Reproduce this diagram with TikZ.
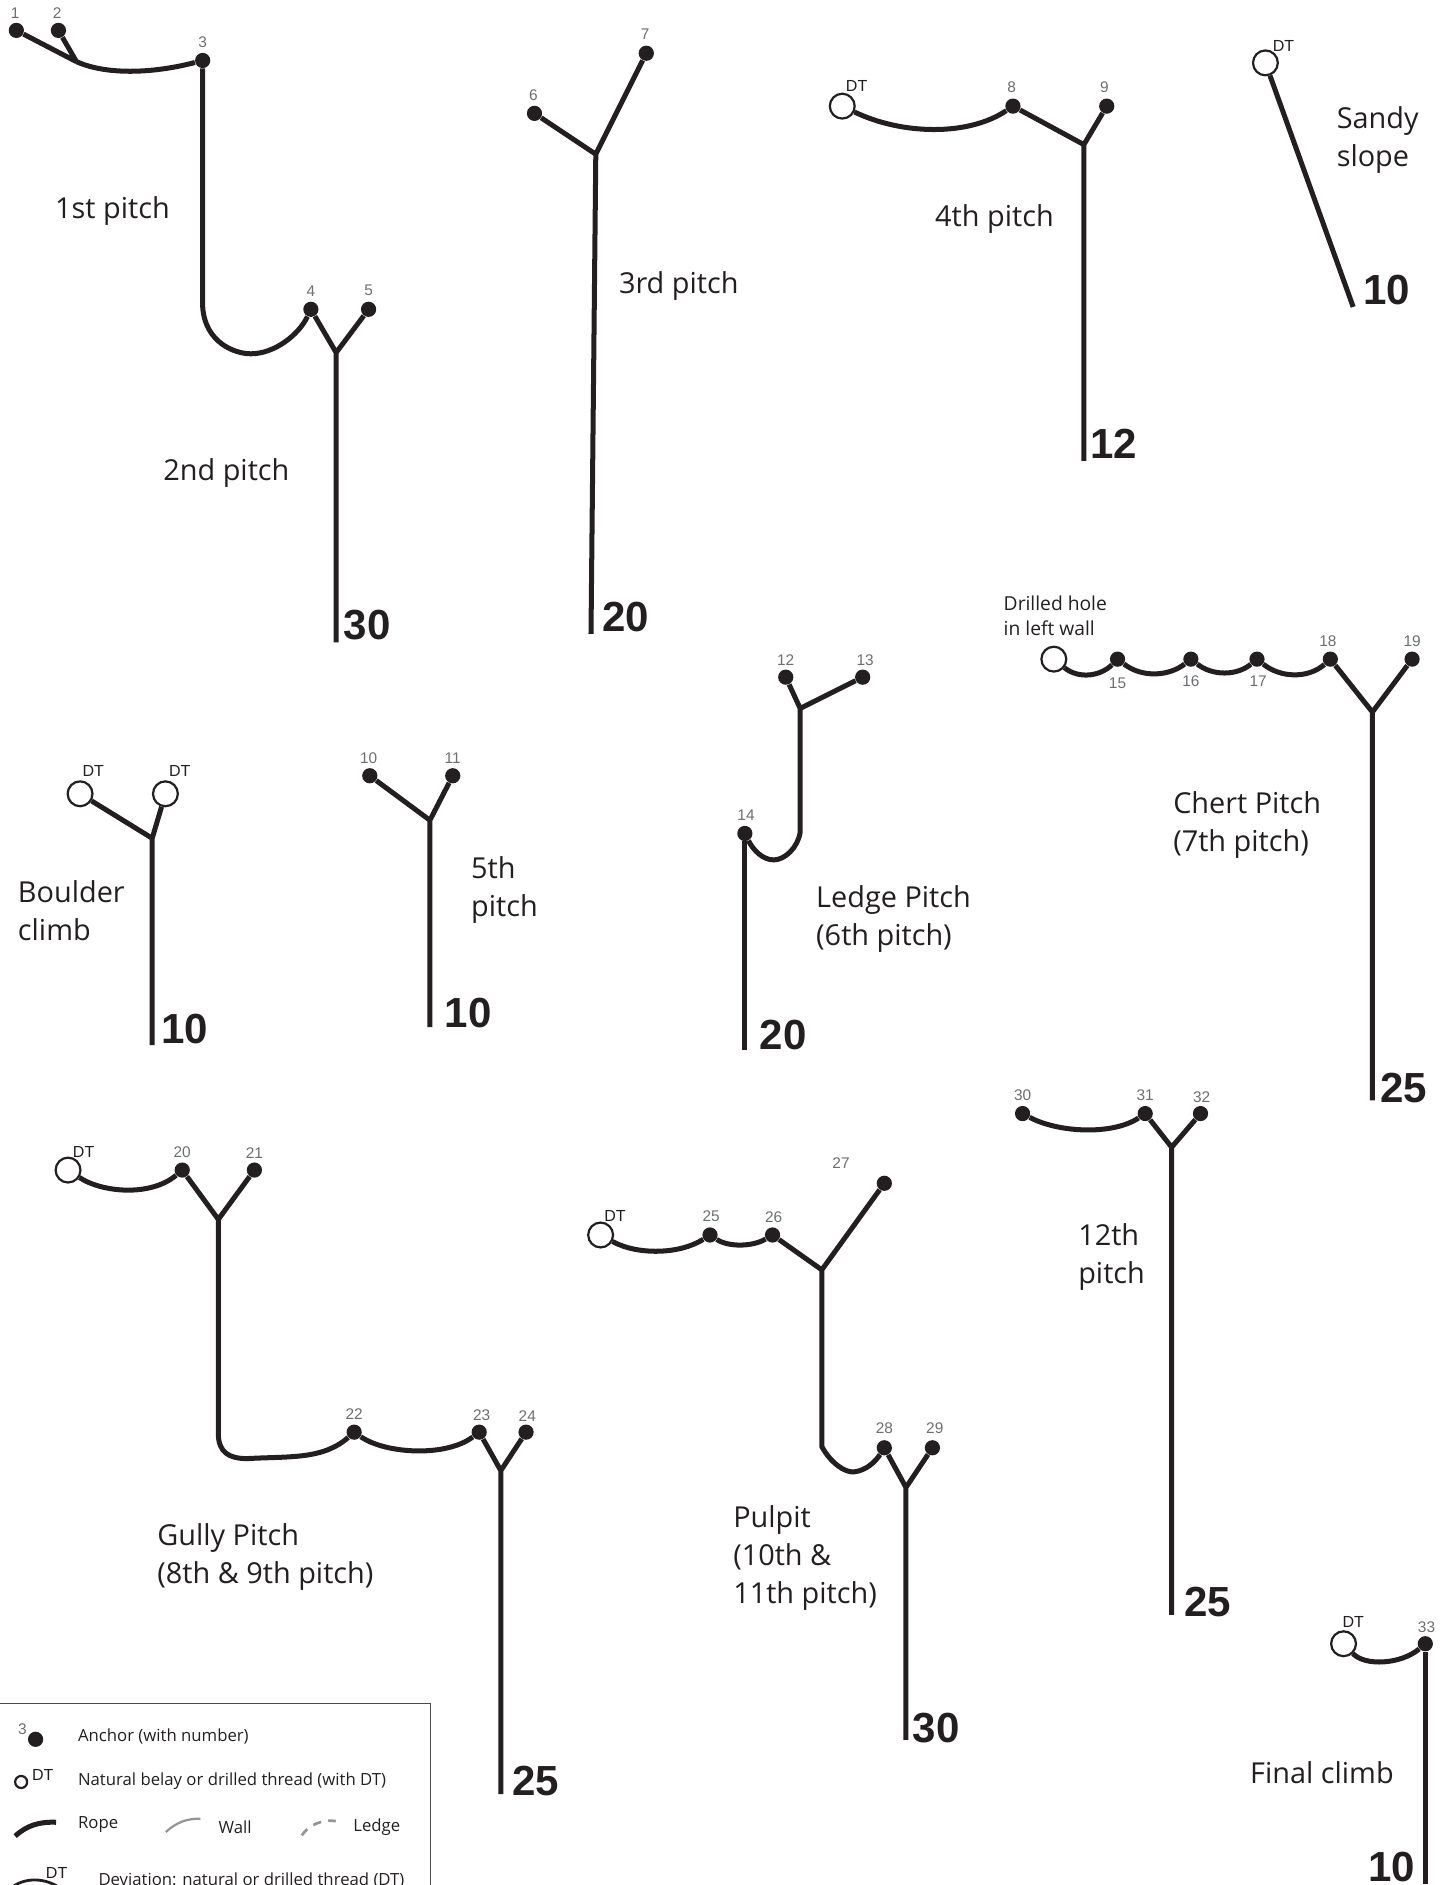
\documentclass[tikz,border=0pt]{standalone}
\usepackage{fontspec}
\setmainfont{Open Sans}
\newfontfamily\arialf{Liberation Sans}
\definecolor{ink}{HTML}{231F20}
\definecolor{numgray}{HTML}{6D6E71}
\definecolor{wallgray}{HTML}{939598}
\tikzset{
  rope/.style={draw=ink,line width=2.5pt,line join=round},
  anch/.style={circle,fill=ink,inner sep=0pt,minimum size=7.6pt},
  dtc/.style={circle,draw=ink,fill=white,line width=1.1pt,inner sep=0pt,minimum size=12.4pt},
  num/.style={font=\arialf\fontsize{7.7}{8}\selectfont,text=numgray,inner sep=0pt},
  dtl/.style={font=\arialf\fontsize{8}{9}\selectfont,text=ink,inner sep=0pt},
  len/.style={font=\arialf\bfseries\fontsize{21}{22}\selectfont,text=ink,inner sep=0pt},
  pitch/.style={font=\fontsize{14.4}{19}\selectfont,text=ink,inner sep=0pt,anchor=west,align=left,yshift=-1.2pt},
  legt/.style={font=\fontsize{8.35}{10}\selectfont,text=ink,inner sep=0pt,anchor=west,yshift=-0.9pt},
}
\begin{document}
\begin{tikzpicture}[x=0.6pt,y=-0.6pt]
\useasboundingbox (-0.6,-0.3) rectangle (1201.4,1567.7);
\clip (-0.6,-0.3) rectangle (1201.4,1567.7);
% --- 1st & 2nd pitch
\node[anch] (a1) at (13,25) {}; \node[anch] (a2) at (48,25) {}; \node[anch] (a3) at (168,50) {};
\node[anch] (a4) at (258,257) {}; \node[anch] (a5) at (306,257) {};
\coordinate (j1) at (63,51); \coordinate (y1) at (279,293); \coordinate (e1) at (279,534); \coordinate (b1) at (168,255);
\draw[rope] (a1) -- (j1) (a2) -- (j1);
\draw[rope] (j1) .. controls (90,63) and (130,60) .. (a3);
\draw[rope] (a3) -- (b1) .. controls (170,285) and (195,294) .. (208,294) .. controls (228,294) and (248,278) .. (a4);
\draw[rope] (a4) -- (y1) (a5) -- (y1) (y1) -- (e1);
\node[num] (n1) at (12,11) {1}; \node[num] (n2) at (47,11) {2}; \node[num] (n3) at (168,35) {3};
\node[num] (n4) at (258,242) {4}; \node[num] (n5) at (306,241) {5};
\node[pitch] (t1) at (45,173) {1st pitch}; \node[pitch] (t2) at (135,391) {2nd pitch};
\node[len] (l1) at (305,520) {30};
% --- 3rd pitch
\node[anch] (a6) at (444,94) {}; \node[anch] (a7) at (537,44) {};
\coordinate (y3) at (495,128); \coordinate (e3) at (491,527);
\draw[rope] (a6) -- (y3) (a7) -- (y3) (y3) -- (e3);
\node[num] (n6) at (443,79) {6}; \node[num] (n7) at (536,28) {7};
\node[pitch] (t3) at (514,236) {3rd pitch}; \node[len] (l3) at (520,513) {20};
% --- 4th pitch
\node[dtc] (d4) at (700,88) {}; \node[anch] (a8) at (842,88) {}; \node[anch] (a9) at (920,88) {};
\coordinate (y4) at (901,120); \coordinate (e4) at (901,383);
\draw[rope] (d4) .. controls (750,112) and (805,113) .. (a8);
\draw[rope] (a8) -- (y4) (a9) -- (y4) (y4) -- (e4);
\node[dtl] (n4d) at (712,71) {DT}; \node[num] (n8) at (841,72) {8}; \node[num] (n9) at (918,72) {9};
\node[pitch] (t4) at (777,180) {4th pitch}; \node[len] (l4) at (926,369) {12};
% --- Sandy slope
\node[dtc] (ds) at (1052,52) {}; \coordinate (es) at (1125,255);
\draw[rope] (ds) -- (es);
\node[dtl] (nsd) at (1067,38) {DT};
\node[pitch] (ts) at (1111,114) {Sandy\\slope}; \node[len] (ls) at (1153,241) {10};
% --- Boulder climb
\node[dtc] (db1) at (66,660) {}; \node[dtc] (db2) at (137,660) {};
\coordinate (yb) at (126,697); \coordinate (eb) at (126,869);
\draw[rope] (db1) -- (yb) (db2) -- (yb) (yb) -- (eb);
\node[dtl] (nb1) at (77,641) {DT}; \node[dtl] (nb2) at (149,641) {DT};
\node[pitch] (tb) at (14,755) {Boulder\\climb}; \node[len] (lb) at (153,856) {10};
% --- 5th pitch
\node[anch] (a10) at (307,645) {}; \node[anch] (a11) at (376,645) {};
\coordinate (y5) at (357,682); \coordinate (e5) at (357,854);
\draw[rope] (a10) -- (y5) (a11) -- (y5) (y5) -- (e5);
\node[num] (n10) at (306,630) {10}; \node[num] (n11) at (376,630) {11};
\node[pitch] (t5) at (391,738) {5th\\pitch}; \node[len] (l5) at (389,842) {10};
% --- Ledge pitch
\node[anch] (a12) at (653,563) {}; \node[anch] (a13) at (717,563) {}; \node[anch] (a14) at (619,693) {};
\coordinate (y6) at (665,589); \coordinate (b6) at (665,692); \coordinate (e6) at (619,873);
\draw[rope] (a12) -- (y6) (a13) -- (y6) (y6) -- (b6) .. controls (663,705) and (652,715) .. (643,715) .. controls (634,715) and (626,707) .. (a14);
\draw[rope] (a14) -- (e6);
\node[num] (n12) at (653,549) {12}; \node[num] (n13) at (719,549) {13}; \node[num] (n14) at (620,678) {14};
\node[pitch] (t6) at (678,762) {Ledge Pitch\\(6th pitch)}; \node[len] (l6) at (651,861) {20};
% --- Chert pitch
\node[dtc] (d7) at (876,548) {}; \node[anch] (a15) at (929,548) {}; \node[anch] (a16) at (990,548) {};
\node[anch] (a17) at (1045,548) {}; \node[anch] (a18) at (1106,548) {}; \node[anch] (a19) at (1174,548) {};
\coordinate (y7) at (1141,592); \coordinate (e7) at (1141,915);
\draw[rope] (d7) .. controls (897,565) and (915,562) .. (a15);
\draw[rope] (a15) .. controls (950,564) and (972,562) .. (a16);
\draw[rope] (a16) .. controls (1008,562) and (1028,562) .. (a17);
\draw[rope] (a17) .. controls (1065,564) and (1088,564) .. (a18);
\draw[rope] (a18) -- (y7) (a19) -- (y7) (y7) -- (e7);
\node[num] (n15) at (929,568) {15}; \node[num] (n16) at (990,566) {16}; \node[num] (n17) at (1046,566) {17};
\node[num] (n18) at (1104,533) {18}; \node[num] (n19) at (1174,533) {19};
\node[font=\fontsize{9.6}{12.4}\selectfont,text=ink,inner sep=0pt,anchor=west,align=left] (t7b) at (834,512) {Drilled hole\\in left wall};
\node[pitch] (t7) at (975,684) {Chert Pitch\\(7th pitch)}; \node[len] (l7) at (1167,905) {25};
% --- Gully pitch
\node[dtc] (d8) at (56,973) {}; \node[anch] (a20) at (151,973) {}; \node[anch] (a21) at (211,973) {};
\node[anch] (a22) at (294,1191) {}; \node[anch] (a23) at (398,1191) {}; \node[anch] (a24) at (437,1191) {};
\coordinate (y8) at (181,1014); \coordinate (b8) at (181,1192); \coordinate (y9) at (416,1223); \coordinate (e9) at (416,1492);
\draw[rope] (d8) .. controls (85,992) and (125,995) .. (a20);
\draw[rope] (a20) -- (y8) (a21) -- (y8) (y8) -- (b8) .. controls (181,1208) and (190,1213) .. (205,1213) .. controls (240,1211) and (268,1214) .. (a22);
\draw[rope] (a22) .. controls (320,1209) and (370,1212) .. (a23);
\draw[rope] (a23) -- (y9) (a24) -- (y9) (y9) -- (e9);
\node[dtl] (n8d) at (69,958) {DT}; \node[num] (n20) at (151,958) {20}; \node[num] (n21) at (211,959) {21};
\node[num] (n22) at (294,1176) {22}; \node[num] (n23) at (400,1177) {23}; \node[num] (n24) at (438,1178) {24};
\node[pitch] (t8) at (130,1293) {Gully Pitch\\(8th \& 9th pitch)}; \node[len] (l8) at (445,1481) {25};
% --- Pulpit
\node[dtc] (d10) at (499,1027) {}; \node[anch] (a25) at (590,1027) {}; \node[anch] (a26) at (642,1027) {};
\node[anch] (a27) at (735,984) {}; \node[anch] (a28) at (735,1204) {}; \node[anch] (a29) at (775,1204) {};
\coordinate (y10) at (683,1056); \coordinate (b10) at (683,1203); \coordinate (y11) at (753,1237); \coordinate (e11) at (753,1447);
\draw[rope] (d10) .. controls (530,1044) and (565,1043) .. (a25);
\draw[rope] (a25) .. controls (605,1037) and (625,1037) .. (a26);
\draw[rope] (a26) -- (y10) (a27) -- (y10) (y10) -- (b10) .. controls (690,1216) and (702,1225) .. (710,1224) .. controls (720,1223) and (728,1215) .. (a28);
\draw[rope] (a28) -- (y11) (a29) -- (y11) (y11) -- (e11);
\node[dtl] (n10d) at (511,1011) {DT}; \node[num] (n25) at (591,1011) {25}; \node[num] (n26) at (643,1012) {26};
\node[num] (n27) at (699,967) {27}; \node[num] (n28) at (735,1188) {28}; \node[num] (n29) at (777,1188) {29};
\node[pitch] (t10) at (609,1294) {Pulpit\\(10th \&\\11th pitch)}; \node[len] (l10) at (778,1437) {30};
% --- 12th pitch
\node[anch] (a30) at (850,926) {}; \node[anch] (a31) at (952,926) {}; \node[anch] (a32) at (998,926) {};
\coordinate (y12) at (974,954); \coordinate (e12) at (974,1343);
\draw[rope] (a30) .. controls (880,942) and (925,944) .. (a31);
\draw[rope] (a31) -- (y12) (a32) -- (y12) (y12) -- (e12);
\node[num] (n30) at (850,911) {30}; \node[num] (n31) at (952,911) {31}; \node[num] (n32) at (999,912) {32};
\node[pitch] (t12) at (896,1043) {12th\\pitch}; \node[len] (l12) at (1004,1332) {25};
% --- Final climb
\node[dtc] (df) at (1117,1367) {}; \node[anch] (a33) at (1185,1367) {}; \coordinate (ef) at (1185,1566.5);
\draw[rope] (df) .. controls (1135,1386) and (1165,1384) .. (a33);
\draw[rope] (a33) -- (ef);
\node[dtl] (nfd) at (1125,1349) {DT}; \node[num] (n33) at (1186,1353) {33};
\node[pitch] (tf) at (1039,1472) {Final climb}; \node[len] (lf) at (1157,1552.5) {10};
% --- Legend
\draw[draw=ink!80,line width=0.6pt] (-5,1416.5) -- (357.5,1416.5) -- (357.5,1580);
\node[anch] (la) at (29,1446.5) {}; \node[num] (lan) at (18,1438) {3};
\node[legt] (lat) at (64,1443) {Anchor (with number)};
\node[circle,draw=ink,fill=white,line width=1.1pt,inner sep=0pt,minimum size=6pt] (ld) at (17,1482) {};
\node[dtl] (ldn) at (35,1476) {DT};
\node[legt] (ldt) at (64,1480) {Natural belay or drilled thread (with DT)};
\coordinate (lr1) at (12,1527); \coordinate (lr2) at (46,1515.5);
\draw[rope] (lr1) .. controls (22,1518) and (32,1515) .. (lr2);
\node[legt] (lrt) at (64,1516) {Rope};
\coordinate (lw1) at (137.3,1523.6); \coordinate (lw2) at (166,1512.5);
\draw[draw=wallgray,line width=1.1pt] (lw1) .. controls (147,1515) and (155,1512.5) .. (lw2);
\node[legt] (lwt) at (181,1518) {Wall};
\coordinate (lg1) at (250.4,1526.4); \coordinate (lg2) at (278.7,1514.5);
\draw[draw=wallgray,line width=1.35pt,dash pattern=on 4.2pt off 3.6pt] (lg1) .. controls (257,1517) and (268,1513) .. (lg2);
\node[legt] (lgt) at (293,1518) {Ledge};
\coordinate (ldv1) at (8,1571); \coordinate (ldv2) at (50,1571);
\draw[draw=ink,line width=1.4pt] (ldv1) .. controls (18,1561) and (38,1561) .. (ldv2);
\node[dtl] (ldvn) at (46.5,1558) {DT};
\node[legt] (ldvt) at (81,1562) {Deviation: natural or drilled thread (DT)};
\end{tikzpicture}
\end{document}
